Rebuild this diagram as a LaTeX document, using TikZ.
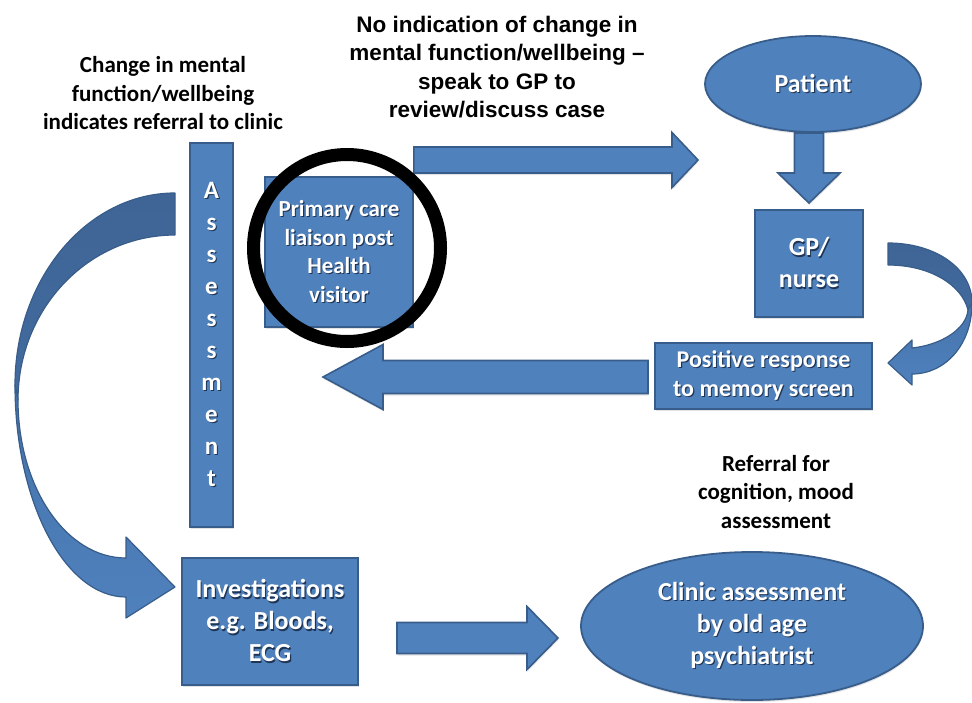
\documentclass[tikz,border=0pt]{standalone}
\usepackage{fontspec}
\setmainfont{Carlito}
\newfontfamily\arialfont{Liberation Sans}
\usetikzlibrary{shapes.geometric,calc,shadows}

\definecolor{boxfill}{HTML}{4F81BD}
\definecolor{boxline}{HTML}{385D8A}
\definecolor{bandDark}{HTML}{3F6596}
\definecolor{bandMid}{HTML}{4673AA}
\definecolor{txtshadow}{HTML}{1F3556}

% white label with a small dark shadow behind it
\newcommand\sh[1]{\leavevmode\rlap{\kern1.1pt\raisebox{-1.3pt}{\color{txtshadow}#1}}#1}

% straight block arrow from #1 to the tip #2:
% shaft half width #3, head half width #4, head length #5
\newcommand\blockarrow[5]{%
  \coordinate (ba-b) at ($(#2)!#5!(#1)$);
  \draw[blockarrow] ($(#1)!#3!90:(#2)$) -- ($(ba-b)!#3!-90:(#1)$)
    -- ($(ba-b)!#4!-90:(#1)$) -- (#2) -- ($(ba-b)!#4!90:(#1)$)
    -- ($(ba-b)!#3!90:(#1)$) -- ($(#1)!#3!-90:(#2)$) -- cycle;
}

\tikzset{
  base/.style={fill=boxfill, draw=boxline, line width=1.8pt, inner sep=0pt,
    text=white, align=center, font=\bfseries\fontsize{23}{28.5}\selectfont,
    drop shadow={shadow xshift=0.5pt, shadow yshift=-2pt, opacity=0.22}},
  box/.style={base, rectangle},
  oval/.style={base, ellipse},
  big/.style={font=\bfseries\fontsize{26}{32}\selectfont},
  blockarrow/.style={fill=boxfill, draw=boxline, line width=1.6pt, line join=miter,
    drop shadow={shadow xshift=0.5pt, shadow yshift=-2pt, opacity=0.22}},
  curveline/.style={draw=boxline, line width=1.2pt, line join=round},
  note/.style={align=center, text=black, font=\bfseries\fontsize{23}{28.5}\selectfont},
  ring/.style={draw=black, line width=13pt, circle, inner sep=0pt, fill=none},
}

\begin{document}
\begin{tikzpicture}[x=1pt, y=-1pt]
\useasboundingbox (0,0) rectangle (972,702);

% curved arrow on the left: back band and front band with head
\draw[curveline, top color=bandDark, bottom color=bandDark!80!boxfill]
  (175,193) .. controls (87,193) and (15,279) .. (15,385) -- (18,400)
  .. controls (18,309) and (88,235) .. (175,235) -- cycle;
\draw[curveline, top color=bandMid, bottom color=boxfill]
  (15,385) .. controls (15,502) and (65,597) .. (126,597) -- (126,618)
  -- (175,587) -- (126,537) -- (126,558)
  .. controls (66,558) and (18,487) .. (18,400) -- cycle;

% curved arrow on the right
\draw[curveline, top color=bandDark, bottom color=bandDark!85!boxfill]
  (888,243) .. controls (935,243) and (972,268) .. (972,303) -- (968,310)
  .. controls (962,285) and (930,265) .. (888,265) -- cycle;
\draw[curveline, top color=bandMid, bottom color=boxfill]
  (972,303) .. controls (972,345) and (945,374) .. (912,374) -- (912,385)
  -- (888,363) -- (912,340) -- (912,348)
  .. controls (940,345) and (966,330) .. (968,310) -- cycle;

% boxes
\node[box, minimum width=43, minimum height=384,
      font=\bfseries\fontsize{25}{32}\selectfont] (assess) at (211.5,335)
  {\sh{A}\\\sh{s}\\\sh{s}\\\sh{e}\\\sh{s}\\\sh{s}\\\sh{m}\\\sh{e}\\\sh{n}\\\sh{t}};
\node[box, minimum width=148, minimum height=150] (primary) at (339,252)
  {\sh{Primary care}\\\sh{liaison post}\\\sh{Health}\\\sh{visitor}};
\node[oval, big, minimum width=216, minimum height=96] (patient) at (813,84)
  {\sh{Patient}};
\node[box, big, minimum width=108, minimum height=107] (gp) at (809,263.5)
  {\sh{GP/}\\\sh{nurse}};
\node[box, minimum width=217, minimum height=66,
      font=\bfseries\fontsize{24}{29}\selectfont] (screen) at (763.5,376)
  {\sh{Positive response}\\\sh{to memory screen}};
\node[box, big, minimum width=176, minimum height=127] (invest) at (270,621.5)
  {\sh{Investigations}\\\sh{e.g. Bloods,}\\\sh{ECG}};
\node[oval, big, minimum width=342, minimum height=148] (clinic) at (752,626)
  {\sh{Clinic assessment}\\\sh{by old age}\\\sh{psychiatrist}};

% straight block arrows
\coordinate (a1s) at (primary.east |- 0,160);
\coordinate (a1e) at (698,160);
\blockarrow{a1s}{a1e}{13pt}{27.5pt}{26pt}
\coordinate (a2s) at (809,133);
\coordinate (a2e) at (809,203);
\blockarrow{a2s}{a2e}{14.5pt}{31pt}{30pt}
\coordinate (a3s) at (648,377);
\coordinate (a3e) at (323,377);
\blockarrow{a3s}{a3e}{16.5pt}{32.5pt}{60pt}
\coordinate (a4s) at (397,638);
\coordinate (a4e) at (558,638);
\blockarrow{a4s}{a4e}{15.5pt}{31.5pt}{31pt}

% notes
\node[note] (nchange) at (163,93.5)
  {Change in mental\\function/wellbeing\\indicates referral to clinic};
\node[note, font=\arialfont\bfseries\fontsize{22.5}{28.3}\selectfont] (nnone) at (497,67)
  {No indication of change in\\mental function/wellbeing –\\speak to GP to\\review/discuss case};
\node[note] (nref) at (776,492)
  {Referral for\\cognition, mood\\assessment};

% highlight ring
\node[ring, minimum size=187] (hl) at (347,248) {};
\end{tikzpicture}
\end{document}
